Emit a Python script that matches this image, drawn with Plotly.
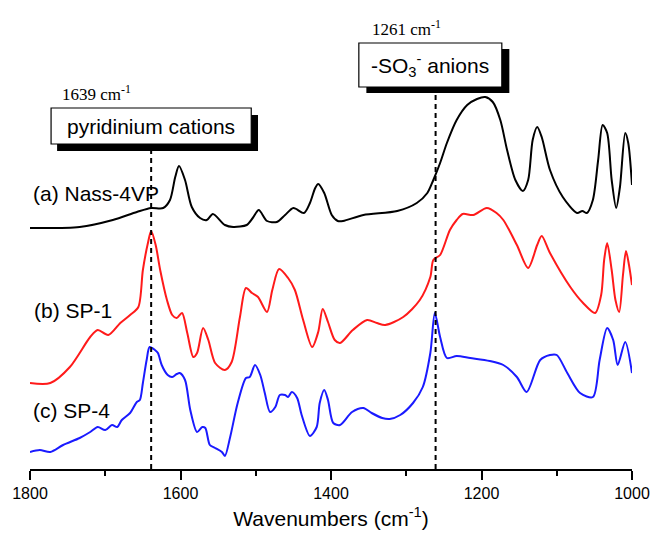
import plotly.graph_objects as go

# Wavenumbers (cm^-1) and intensities (a.u., stacked/offset)
wn_a = [1800, 1734, 1690, 1658, 1639, 1623, 1614, 1607, 1602, 1594, 1585, 1574, 1565, 1557,
        1541, 1530, 1512, 1504, 1496, 1485, 1472, 1461, 1450, 1436, 1428, 1421, 1417, 1409,
        1399, 1391, 1384, 1357, 1312, 1286, 1272, 1264, 1255, 1246, 1233, 1219, 1206, 1195,
        1185, 1175, 1166, 1155, 1145, 1138, 1132, 1126, 1120, 1109, 1092, 1073, 1066, 1060,
        1052, 1045, 1039, 1033, 1027, 1021, 1016, 1009, 1005, 1000]
int_a = [241, 242, 249, 257, 261, 261, 269, 292, 303, 289, 262, 251, 249, 255,
         244, 242, 244, 251, 259, 248, 247, 254, 261, 256, 266, 281, 285, 276,
         254, 248, 248, 254, 258, 266, 276, 289, 306, 326, 349, 364, 370, 372,
         367, 349, 319, 289, 278, 289, 329, 342, 332, 299, 272, 256, 258, 256,
         269, 309, 344, 336, 289, 261, 282, 336, 326, 284]

wn_b = [1800, 1773, 1747, 1720, 1710, 1696, 1680, 1667, 1656, 1650, 1643, 1639, 1633, 1627,
        1618, 1611, 1605, 1598, 1591, 1583, 1578, 1570, 1563, 1554, 1541, 1532, 1521, 1513,
        1505, 1497, 1485, 1478, 1469, 1457, 1448, 1437, 1425, 1417, 1411, 1404, 1395, 1388,
        1371, 1352, 1339, 1328, 1304, 1282, 1268, 1264, 1255, 1242, 1233, 1225, 1211, 1193,
        1180, 1171, 1153, 1138, 1126, 1120, 1109, 1082, 1065, 1049, 1041, 1037, 1033, 1027,
        1022, 1017, 1012, 1008, 1004, 1000]
int_b = [86, 86, 102, 132, 139, 134, 146, 154, 162, 199, 227, 238, 224, 199,
         169, 154, 151, 156, 136, 112, 116, 141, 129, 106, 99, 107, 152, 181,
         176, 172, 157, 179, 200, 191, 179, 149, 122, 137, 160, 147, 129, 126,
         139, 149, 146, 144, 152, 169, 192, 209, 214, 239, 249, 255, 254, 261,
         256, 249, 224, 201, 224, 233, 216, 182, 166, 156, 174, 209, 226, 199,
         169, 157, 194, 218, 204, 184]

wn_c = [1800, 1787, 1773, 1756, 1734, 1720, 1710, 1700, 1691, 1684, 1678, 1667, 1658, 1654,
        1650, 1645, 1641, 1634, 1630, 1625, 1617, 1611, 1605, 1601, 1594, 1587, 1578, 1571,
        1567, 1561, 1554, 1545, 1541, 1534, 1524, 1513, 1508, 1501, 1494, 1488, 1481, 1474,
        1468, 1461, 1457, 1452, 1445, 1439, 1428, 1419, 1415, 1409, 1404, 1397, 1388, 1372,
        1357, 1346, 1332, 1322, 1308, 1291, 1278, 1268, 1262, 1255, 1246, 1233, 1215, 1189,
        1171, 1153, 1140, 1122, 1109, 1100, 1086, 1069, 1052, 1043, 1033, 1025, 1019, 1009, 1000]
int_c = [17, 19, 17, 24, 31, 37, 42, 39, 44, 42, 49, 56, 67, 69,
         86, 109, 122, 119, 116, 104, 94, 92, 95, 96, 89, 59, 37, 42,
         41, 24, 21, 17, 13, 32, 66, 91, 92, 104, 94, 76, 57, 62,
         74, 74, 72, 77, 71, 54, 33, 42, 66, 79, 69, 46, 44, 57,
         61, 56, 51, 50, 54, 66, 82, 116, 156, 132, 111, 113, 111, 108,
         104, 92, 77, 109, 114, 114, 96, 76, 72, 109, 141, 129, 104, 127, 96]

tick_vals = [1800, 1600, 1400, 1200, 1000]
tick_text = ["1800", "1600", "1400", "1200", "1000"]
marker_wn = [1639, 1261]

fig = go.Figure()
for wn, it, col in [(wn_a, int_a, "black"), (wn_b, int_b, "#ff1a1a"), (wn_c, int_c, "#1a1aff")]:
    fig.add_trace(go.Scatter(x=wn, y=it, mode="lines",
                             line=dict(color=col, width=2, shape="spline", smoothing=0.8),
                             showlegend=False, hoverinfo="skip"))

shapes = []
# dashed marker lines
shapes.append(dict(type="line", x0=marker_wn[0], x1=marker_wn[0], y0=0, y1=318,
                   line=dict(color="black", width=2, dash="5px,4px")))
shapes.append(dict(type="line", x0=marker_wn[1], x1=marker_wn[1], y0=0, y1=376,
                   line=dict(color="black", width=2, dash="5px,4px")))
# box 1 shadow + box
shapes.append(dict(type="rect", x0=1764, x1=1497, y0=318, y1=354,
                   fillcolor="black", line=dict(width=0)))
shapes.append(dict(type="rect", x0=1772, x1=1506, y0=325, y1=361,
                   fillcolor="white", line=dict(color="black", width=1.2)))
# box 2 shadow + box
shapes.append(dict(type="rect", x0=1353, x1=1163, y0=376, y1=420,
                   fillcolor="black", line=dict(width=0)))
shapes.append(dict(type="rect", x0=1363, x1=1173, y0=382, y1=426,
                   fillcolor="white", line=dict(color="black", width=1.2)))

annos = [
    dict(x=1639, y=343, text="pyridinium cations", font=dict(family="Arial", size=21, color="black")),
    dict(x=1268, y=404, text="-SO<sub>3</sub><sup>-</sup> anions", font=dict(family="Arial", size=21, color="black")),
    dict(x=1712, y=376, text="1639 cm<sup>-1</sup>", font=dict(family="Liberation Serif", size=17, color="black")),
    dict(x=1300, y=441, text="1261 cm<sup>-1</sup>", font=dict(family="Liberation Serif", size=17, color="black")),
    dict(x=1799, y=276, text="(a) Nass-4VP", xanchor="left", font=dict(family="Arial", size=21, color="black")),
    dict(x=1797, y=159, text="(b) SP-1", xanchor="left", font=dict(family="Arial", size=21, color="black")),
    dict(x=1799, y=59, text="(c) SP-4", xanchor="left", font=dict(family="Arial", size=21, color="black")),
]
for a in annos:
    a.setdefault("xanchor", "center")
    a.update(showarrow=False, yanchor="middle", xref="x", yref="y")

fig.update_layout(
    width=656, height=536,
    margin=dict(l=30, r=24, t=0, b=67),
    paper_bgcolor="white", plot_bgcolor="white",
    shapes=shapes, annotations=annos,
    xaxis=dict(range=[1800, 1000], tickvals=tick_vals, ticktext=tick_text,
               showline=True, linecolor="black", linewidth=2,
               ticks="outside", ticklen=9, tickwidth=2, tickcolor="black",
               minor=dict(dtick=100, ticks="outside", ticklen=5, tickwidth=2, tickcolor="black"),
               showgrid=False, zeroline=False,
               tickfont=dict(family="Arial", size=16, color="black"),
               title=dict(text="Wavenumbers (cm<sup>-1</sup>)",
                          font=dict(family="Arial", size=21, color="black"), standoff=10)),
    yaxis=dict(range=[0, 469], visible=False, showgrid=False, zeroline=False),
)
fig.write_html("out.html", config={"displayModeBar": False},
               post_script="document.body.style.margin='0px';")
